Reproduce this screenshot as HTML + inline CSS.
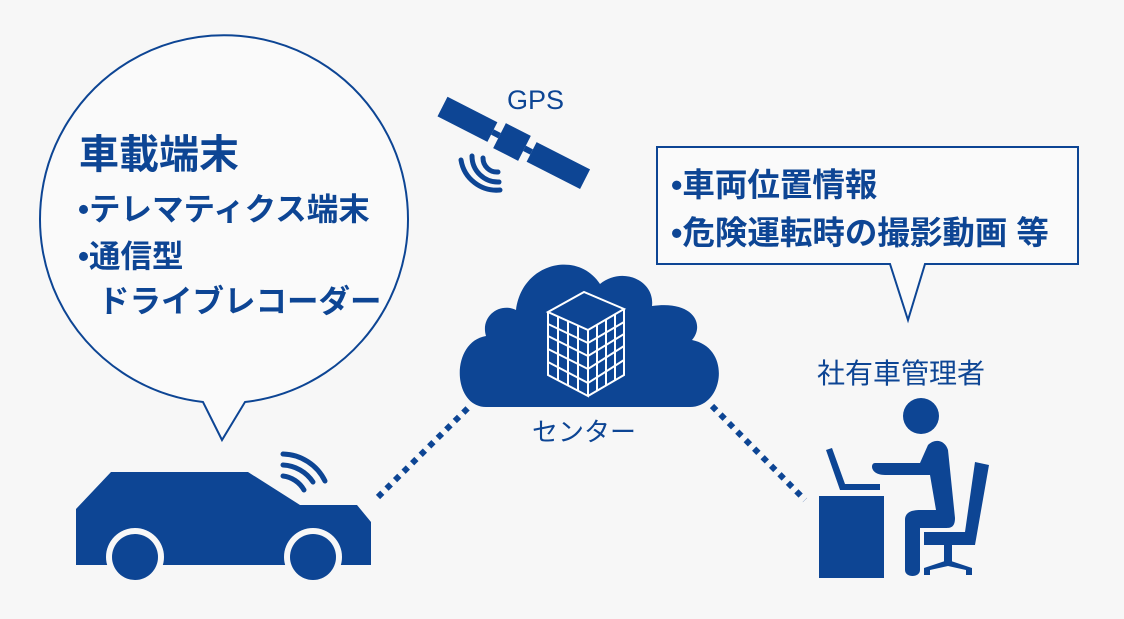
<!DOCTYPE html>
<html><head><meta charset="utf-8"><style>
html,body{margin:0;padding:0;background:#f7f7f7;}
svg{display:block;}
text{font-family:"Liberation Sans","Noto Sans CJK JP",sans-serif;fill:#0d4594;}
</style></head><body>
<svg width="1124" height="619" viewBox="0 0 1124 619" xmlns="http://www.w3.org/2000/svg">
<rect width="1124" height="619" fill="#f7f7f7"/>
<!-- left bubble -->
<path d="M203,402 A184,184 0 1 1 245,402 L222,440 Z" fill="#fafafa" stroke="#0d4594" stroke-width="2" stroke-linejoin="miter"/>
<text x="79" y="168" font-size="40" font-weight="bold">車載端末</text>
<text x="78" y="220" font-size="31.5" font-weight="bold">•テレマティクス端末</text>
<text x="78" y="267" font-size="31.5" font-weight="bold">•通信型</text>
<text x="98" y="312" font-size="31.5" font-weight="bold">ドライブレコーダー</text>
<!-- right box -->
<path d="M657,147 H1078 V264 H925 L908,320 L890,264 H657 Z" fill="#fafafa" stroke="#0d4594" stroke-width="2"/>
<text x="671" y="196" font-size="32.5" font-weight="bold">•車両位置情報</text>
<text x="671" y="244" font-size="32.5" font-weight="bold">•危険運転時の撮影動画 等</text>
<text x="817" y="383" font-size="28">社有車管理者</text>
<!-- GPS -->
<text x="507" y="109" font-size="27">GPS</text>
<g transform="translate(512,142) rotate(27)">
<rect x="-78" y="-11" width="56" height="22" fill="#0d4594"/>
<rect x="-22" y="-3" width="8" height="6" fill="#0d4594"/>
<rect x="-14" y="-14" width="28" height="28" fill="#0d4594"/>
<rect x="14" y="-3" width="8" height="6" fill="#0d4594"/>
<rect x="22" y="-11" width="60" height="22" fill="#0d4594"/>
</g>
<g fill="none" stroke="#0d4594" stroke-width="5" stroke-linecap="round">
<path d="M483,158 A14,14 0 0 0 498,172"/>
<path d="M472,156 A26,26 0 0 0 499,182"/>
<path d="M461,160 A36,36 0 0 0 500,190"/>
</g>
<!-- cloud -->
<path d="M486,407 C452,407 450,342 486,336 C480,316 500,302 516,310 C522,262 578,250 600,284 C622,266 655,280 652,306 C694,300 705,325 692,340 C732,348 724,407 690,407 Z" fill="#0d4594"/>
<g stroke="#fff" stroke-width="2" fill="none">
<path d="M548,312 L584,292 L624,309 L588,330 Z" fill="#0d4594"/>
<path d="M548,312 V375 L588,396 V330"/>
<path d="M588,396 L624,375 V309"/>
<path d="M548,324 L588,343 L624,322 M548,336 L588,356 L624,334 M548,349 L588,369 L624,346 M548,362 L588,383 L624,360"/>
<path d="M558,317 V380 M568,321 V386 M578,326 V391 M597,325 V391 M606,320 V386 M615,314 V381"/>
</g>
<text x="532" y="441" font-size="26">センター</text>
<!-- dotted connectors -->
<line x1="378" y1="497" x2="470" y2="406" stroke="#0d4594" stroke-width="6" stroke-dasharray="6,6"/>
<line x1="712" y1="406" x2="805" y2="500" stroke="#0d4594" stroke-width="6" stroke-dasharray="6,6"/>
<!-- car -->
<path d="M76,509 L111,472 H248 L300,505 H357 L371,522 V565 H76 Z" fill="#0d4594"/>
<circle cx="135" cy="557" r="29" fill="#f7f7f7"/>
<circle cx="135" cy="557" r="23" fill="#0d4594"/>
<circle cx="313" cy="557" r="29" fill="#f7f7f7"/>
<circle cx="313" cy="557" r="23" fill="#0d4594"/>
<g fill="none" stroke="#0d4594" stroke-width="5" stroke-linecap="round">
<path d="M283,476 A28,28 0 0 1 304,490"/>
<path d="M283,465 A38,38 0 0 1 313,482"/>
<path d="M283,454 A48,48 0 0 1 325,481"/>
</g>
<!-- person -->
<rect x="819" y="496" width="65" height="82" fill="#0d4594"/>
<path d="M826,450 L832,448 L845,484 H880 V490 H840 Z" fill="#0d4594"/>
<circle cx="921" cy="416" r="18" fill="#0d4594"/>
<path d="M875,463 H920 L928,445 C935,438 945,440 948,450 L955,518 C955,528 950,528 945,528 H920 V570 C920,578 905,578 905,570 V520 C905,512 912,510 920,510 H936 L930,475 L885,475 C870,475 870,463 875,463 Z" fill="#0d4594"/>
<path d="M975,462 L989,465 L975,545 H924 V532 H965 Z" fill="#0d4594"/>
<rect x="944" y="545" width="8" height="20" fill="#0d4594"/>
<path d="M924,575 V568 L948,560 L972,568 V575 L966,575 V570 L948,566 L930,570 V575 Z" fill="#0d4594"/>
</svg>
</body></html>
